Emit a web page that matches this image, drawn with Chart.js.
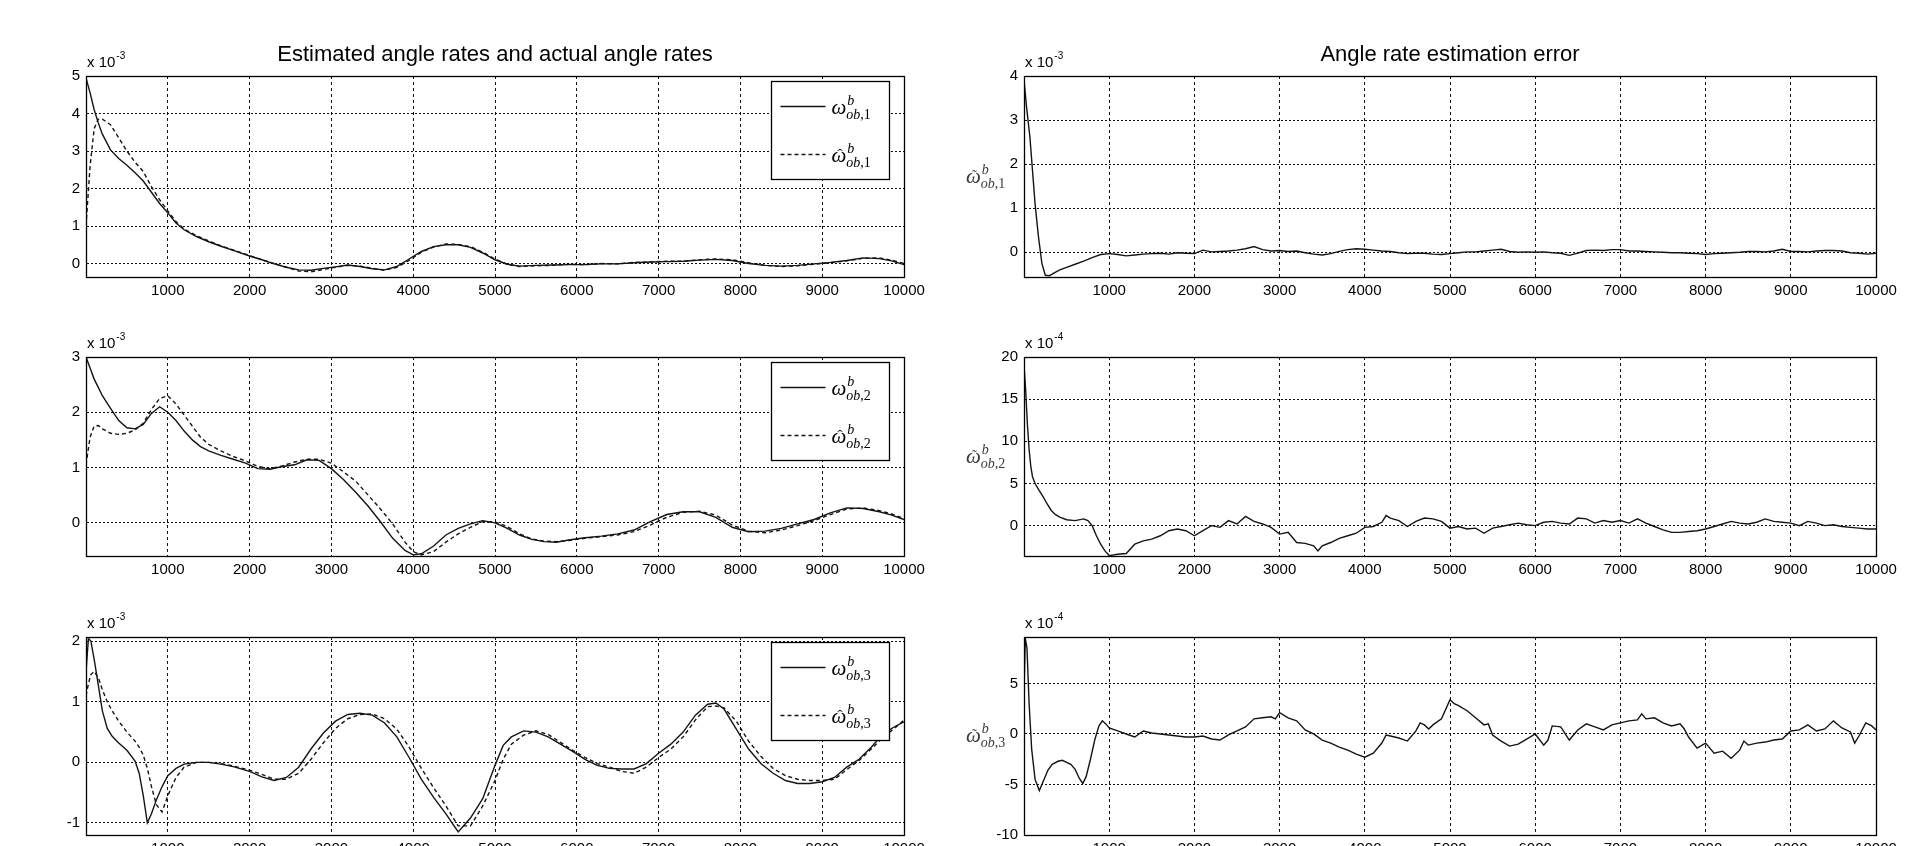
<!DOCTYPE html>
<html>
<head>
<meta charset="utf-8">
<script src="https://cdn.jsdelivr.net/npm/chart.js"></script>
<style>
  html,body{margin:0;padding:0;background:#fff;}
  body{width:1930px;height:846px;overflow:hidden;position:relative;}
  canvas{position:absolute;}
</style>
</head>
<body>
<script>
// ---------------- DATA ----------------
const xTicks = [1000,2000,3000,4000,5000,6000,7000,8000,9000,10000];

const titleLeft = "Estimated angle rates and actual angle rates";
const titleRight = "Angle rate estimation error";

// Left panel 1 (x 10^-3)
const L1_x = [0,50,100,150,200,300,400,500,600,700,800,900,1000,1100,1200,1350,1500,1650,1800,2000,2150,2300,2450,2600,2750,2900,3050,3200,3350,3500,3650,3800,3950,4100,4250,4400,4550,4700,4850,5000,5150,5300,5500,5700,5900,6100,6300,6500,6700,6900,7100,7300,7500,7700,7900,8100,8300,8500,8700,8900,9100,9300,9500,9700,9850,10000];
const L1_actual = [4.95,4.55,4.1,3.75,3.45,3.03,2.8,2.62,2.42,2.2,1.9,1.6,1.35,1.08,0.9,0.72,0.58,0.46,0.35,0.2,0.1,-0.01,-0.1,-0.17,-0.18,-0.13,-0.09,-0.04,-0.08,-0.14,-0.17,-0.08,0.12,0.32,0.45,0.5,0.5,0.43,0.28,0.1,-0.02,-0.07,-0.05,-0.04,-0.03,-0.03,-0.01,-0.01,0.02,0.04,0.05,0.06,0.09,0.11,0.08,0.0,-0.05,-0.07,-0.05,-0.01,0.03,0.08,0.15,0.13,0.07,-0.03];
const L1_est = [1.0,2.6,3.6,3.85,3.85,3.7,3.35,3.0,2.7,2.45,2.05,1.7,1.4,1.12,0.92,0.74,0.6,0.47,0.36,0.21,0.1,0.0,-0.1,-0.2,-0.22,-0.16,-0.1,-0.05,-0.07,-0.13,-0.18,-0.1,0.08,0.3,0.44,0.52,0.51,0.45,0.3,0.12,-0.02,-0.08,-0.06,-0.05,-0.02,-0.03,0.0,-0.01,0.03,0.04,0.06,0.06,0.1,0.12,0.1,0.02,-0.05,-0.08,-0.06,-0.02,0.02,0.07,0.14,0.15,0.09,0.0];
const L1_yTicks = [0,1,2,3,4,5];

// Left panel 2 (x 10^-3)
const L2_x = [0,50,100,150,200,300,400,500,600,700,800,900,1000,1100,1200,1300,1400,1500,1650,1800,1950,2100,2250,2400,2550,2700,2850,3000,3150,3300,3450,3600,3750,3900,4000,4100,4250,4400,4550,4700,4850,5000,5150,5300,5450,5600,5750,5900,6100,6300,6500,6700,6900,7100,7300,7500,7700,7900,8100,8300,8500,8700,8900,9100,9300,9500,9700,9850,10000];
const L2_actual = [3.0,2.8,2.6,2.45,2.3,2.07,1.85,1.72,1.7,1.78,1.98,2.1,2.0,1.85,1.66,1.5,1.38,1.3,1.22,1.15,1.08,0.98,0.97,1.02,1.05,1.14,1.13,0.98,0.78,0.55,0.3,0.02,-0.28,-0.5,-0.58,-0.56,-0.42,-0.22,-0.1,-0.02,0.04,0.0,-0.1,-0.22,-0.3,-0.34,-0.35,-0.31,-0.27,-0.24,-0.2,-0.13,0.02,0.15,0.2,0.2,0.1,-0.08,-0.16,-0.15,-0.1,-0.02,0.06,0.18,0.27,0.26,0.2,0.14,0.06];
const L2_est = [1.05,1.55,1.75,1.76,1.7,1.62,1.6,1.62,1.68,1.8,2.05,2.25,2.3,2.15,1.95,1.75,1.55,1.42,1.3,1.2,1.12,1.02,0.98,1.03,1.1,1.15,1.15,1.08,0.92,0.75,0.5,0.25,-0.02,-0.35,-0.52,-0.58,-0.52,-0.35,-0.2,-0.08,0.02,0.02,-0.07,-0.2,-0.29,-0.33,-0.34,-0.32,-0.28,-0.25,-0.22,-0.16,-0.04,0.1,0.19,0.21,0.14,-0.04,-0.15,-0.18,-0.13,-0.05,0.04,0.15,0.25,0.27,0.22,0.16,0.08];
const L2_yTicks = [0,1,2,3];

// Left panel 3 (x 10^-3)
const L3_x = [0,30,60,100,150,200,260,320,400,500,600,650,700,750,800,860,930,1000,1100,1200,1350,1500,1650,1800,2000,2150,2300,2450,2600,2750,2900,3050,3200,3350,3500,3650,3800,3950,4100,4250,4400,4550,4700,4850,5000,5100,5200,5350,5500,5650,5800,5950,6100,6250,6400,6550,6700,6850,7000,7150,7300,7450,7600,7700,7800,7950,8100,8250,8400,8550,8700,8850,9000,9150,9300,9450,9600,9750,9900,10000];
const L3_actual = [1.5,2.05,2.0,1.7,1.28,0.85,0.56,0.43,0.32,0.2,0.02,-0.18,-0.55,-1.0,-0.85,-0.62,-0.4,-0.22,-0.1,-0.03,0.0,0.0,-0.03,-0.07,-0.15,-0.24,-0.3,-0.25,-0.08,0.22,0.48,0.68,0.79,0.81,0.78,0.65,0.42,0.08,-0.28,-0.58,-0.85,-1.15,-0.92,-0.6,-0.05,0.28,0.42,0.52,0.5,0.42,0.3,0.18,0.05,-0.05,-0.1,-0.11,-0.11,-0.02,0.15,0.3,0.5,0.78,0.96,0.98,0.88,0.55,0.22,-0.02,-0.18,-0.3,-0.35,-0.35,-0.32,-0.25,-0.08,0.05,0.25,0.48,0.6,0.67];
const L3_est = [1.1,1.3,1.45,1.5,1.4,1.2,1.0,0.85,0.68,0.5,0.35,0.25,0.12,-0.1,-0.4,-0.7,-0.82,-0.55,-0.25,-0.08,0.0,0.0,-0.02,-0.06,-0.13,-0.2,-0.28,-0.28,-0.18,0.05,0.32,0.56,0.72,0.79,0.8,0.72,0.55,0.25,-0.1,-0.42,-0.72,-1.05,-1.05,-0.72,-0.3,0.05,0.3,0.45,0.52,0.46,0.33,0.2,0.08,-0.02,-0.08,-0.15,-0.18,-0.08,0.08,0.22,0.42,0.7,0.92,0.93,0.9,0.68,0.35,0.1,-0.1,-0.22,-0.28,-0.3,-0.3,-0.28,-0.12,0.03,0.22,0.42,0.58,0.7];
const L3_yTicks = [-1,0,1,2];

// Right panel 1: error omega1 (x 10^-3)
const R1_x = [0,30,70,100,130,170,210,250,300,350,420,500,600,700,800,900,1000,1100,1200,1300,1400,1500,1600,1700,1800,1900,2000,2100,2200,2300,2400,2500,2600,2700,2800,2900,3000,3100,3200,3300,3400,3500,3600,3700,3800,3900,4000,4100,4200,4300,4400,4500,4600,4700,4800,4900,5000,5100,5200,5300,5400,5500,5600,5700,5800,5900,6000,6100,6200,6300,6400,6500,6600,6700,6800,6900,7000,7100,7200,7300,7400,7500,7600,7700,7800,7900,8000,8100,8200,8300,8400,8500,8600,8700,8800,8900,9000,9100,9200,9300,9400,9500,9600,9700,9800,9900,10000];
const R1_err = [3.9,3.3,2.6,1.85,1.1,0.35,-0.25,-0.52,-0.53,-0.47,-0.4,-0.34,-0.27,-0.2,-0.12,-0.05,-0.03,-0.05,-0.08,-0.06,-0.04,-0.03,-0.02,-0.04,-0.01,-0.02,-0.03,0.05,0.01,0.02,0.03,0.05,0.08,0.13,0.06,0.03,0.04,0.02,0.03,-0.01,-0.04,-0.06,-0.03,0.02,0.06,0.08,0.07,0.05,0.03,0.02,-0.01,-0.03,-0.02,-0.02,-0.04,-0.05,-0.03,-0.01,0.01,0.01,0.03,0.05,0.07,0.02,0.0,0.01,0.0,0.01,-0.01,-0.02,-0.07,-0.02,0.04,0.05,0.04,0.06,0.06,0.03,0.03,0.02,0.01,0.0,-0.01,-0.01,-0.02,-0.03,-0.05,-0.03,-0.02,-0.01,0.0,0.02,0.02,0.01,0.03,0.07,0.02,0.02,0.01,0.03,0.04,0.04,0.03,-0.01,-0.02,-0.04,-0.02];
const R1_yTicks = [0,1,2,3,4];

// Right panel 2: error omega2 (x 10^-4)
const R2_x = [0,20,40,60,80,100,130,170,220,270,320,370,420,500,600,700,750,800,850,900,950,1000,1100,1200,1300,1400,1500,1600,1700,1800,1900,2000,2100,2200,2300,2400,2500,2600,2700,2800,2900,3000,3100,3200,3300,3400,3450,3500,3600,3700,3800,3900,4000,4100,4200,4250,4300,4400,4500,4600,4700,4800,4900,5000,5100,5200,5300,5400,5500,5600,5700,5800,5900,6000,6100,6200,6300,6400,6500,6600,6700,6800,6900,7000,7100,7200,7300,7400,7500,7600,7700,7800,7900,8000,8100,8200,8300,8400,8500,8600,8700,8800,8900,9000,9100,9200,9300,9400,9500,9600,9700,9800,9900,10000];
const R2_err = [19,16,12,9,7,5.8,5.0,4.3,3.5,2.6,1.8,1.3,1.0,0.7,0.6,0.8,0.6,0.0,-1.2,-2.2,-3.0,-3.55,-3.4,-3.3,-2.2,-1.8,-1.6,-1.2,-0.6,-0.4,-0.6,-1.2,-0.6,0.0,-0.2,0.6,0.2,1.1,0.5,0.2,-0.2,-1.0,-0.8,-2.0,-2.1,-2.4,-3.0,-2.4,-2.0,-1.5,-1.2,-0.9,-0.2,-0.1,0.4,1.2,0.9,0.6,-0.1,0.5,0.9,0.8,0.5,-0.3,-0.1,-0.4,-0.3,-0.9,-0.3,-0.1,0.1,0.3,0.1,0.0,0.4,0.5,0.3,0.2,0.9,0.8,0.3,0.6,0.4,0.6,0.3,0.8,0.3,-0.1,-0.5,-0.8,-0.8,-0.7,-0.6,-0.4,-0.1,0.2,0.5,0.3,0.2,0.4,0.8,0.5,0.4,0.3,0.0,0.5,0.3,0.0,0.1,-0.1,-0.2,-0.3,-0.4,-0.4];
const R2_yTicks = [0,5,10,15,20];

// Right panel 3: error omega3 (x 10^-4)
const R3_x = [0,15,35,60,90,130,180,230,280,330,400,450,500,550,600,650,690,730,780,830,880,920,960,1000,1100,1200,1300,1400,1500,1600,1700,1800,1900,2000,2100,2200,2300,2400,2500,2600,2700,2800,2900,2950,3000,3100,3200,3300,3400,3500,3600,3700,3800,3900,4000,4100,4200,4250,4300,4400,4500,4600,4650,4700,4750,4800,4900,5000,5050,5100,5200,5300,5400,5450,5500,5600,5700,5800,5900,6000,6100,6150,6200,6300,6400,6500,6600,6700,6800,6900,7000,7100,7200,7250,7300,7400,7500,7600,7700,7750,7800,7900,8000,8100,8200,8300,8400,8450,8500,8600,8700,8800,8900,9000,9100,9200,9300,9400,9500,9600,9700,9750,9800,9880,9950,10000];
const R3_err = [4,9.5,8.5,3,-1.5,-4.5,-5.6,-4.6,-3.6,-3.0,-2.7,-2.6,-2.8,-3.0,-3.5,-4.4,-4.9,-4.2,-2.5,-0.6,0.8,1.3,1.0,0.6,0.3,0.0,-0.3,0.3,0.1,0.0,-0.1,-0.2,-0.3,-0.3,-0.2,-0.5,-0.6,-0.1,0.3,0.7,1.5,1.6,1.7,1.5,2.1,1.6,1.3,0.4,0.0,-0.6,-0.9,-1.3,-1.6,-2.0,-2.3,-1.9,-0.9,-0.1,-0.2,-0.4,-0.7,0.3,1.1,0.9,0.5,0.9,1.5,3.4,3.0,2.8,2.3,1.6,0.9,1.0,-0.1,-0.7,-1.2,-1.0,-0.5,0.0,-1.1,-0.6,0.8,0.7,-0.6,0.4,1.0,0.7,0.4,0.9,1.1,1.3,1.4,2.0,1.5,1.6,1.1,0.8,1.0,0.5,-0.3,-1.4,-0.9,-1.9,-1.7,-2.4,-1.6,-0.7,-1.1,-0.9,-0.8,-0.6,-0.5,0.3,0.4,0.9,0.3,0.5,1.3,0.6,0.2,-0.9,-0.2,1.1,0.8,0.4];
const R3_yTicks = [-10,-5,0,5];

// ---------------- LAYOUT ----------------
const SANS = '"Liberation Sans", Arial, sans-serif';
const SERIF = '"Liberation Serif", "DejaVu Serif", serif';
const LINE = '#141414';
const DASH = [4,3];

const COLS = {
  L: {cx:0, cw:960, plotL:86, plotR:904},
  R: {cx:960, cw:970, plotL:1024, plotR:1876}
};
const ROWS = [{top:76, bot:277},{top:357, bot:556},{top:637, bot:835}];
const PADTOP = 76, XAXISH = 34;

function drawOmega(ctx, x, y, accent, idx, color){
  ctx.save();
  ctx.fillStyle = color; ctx.textAlign='left'; ctx.textBaseline='alphabetic';
  ctx.font = 'italic 21px ' + SERIF;
  ctx.fillText('\u03C9', x, y);
  const w = ctx.measureText('\u03C9').width;
  if (accent){
    ctx.font = '15px ' + SERIF;
    ctx.textAlign='center';
    ctx.fillText(accent, x + w/2 + 1, y - 3);
    ctx.textAlign='left';
  }
  ctx.font = 'italic 14px ' + SERIF;
  ctx.fillText('b', x + w + 1, y - 9);
  ctx.fillText('ob', x + w, y + 5);
  const w2 = ctx.measureText('ob').width;
  ctx.font = '14px ' + SERIF;
  ctx.fillText(',' + idx, x + w + w2, y + 5);
  ctx.restore();
}

function exponentText(ctx, x, y, exp){
  ctx.save();
  ctx.fillStyle='#000'; ctx.textAlign='left'; ctx.textBaseline='alphabetic';
  ctx.font = '15px ' + SANS;
  ctx.fillText('x 10', x, y);
  const w = ctx.measureText('x 10').width;
  ctx.font = '10px ' + SANS;
  ctx.fillText(exp, x + w + 1, y - 8);
  ctx.restore();
}

const decorPlugin = {
  id:'decor',
  afterDraw(chart){
    const p = chart.options.plugins.decor;
    const ca = chart.chartArea;
    const ctx = chart.ctx;
    ctx.save();
    ctx.strokeStyle='#000'; ctx.lineWidth=1.3; ctx.setLineDash([]);
    ctx.strokeRect(Math.round(ca.left)+0.5, Math.round(ca.top)+0.5, Math.round(ca.right-ca.left), Math.round(ca.bottom-ca.top));
    exponentText(ctx, ca.left + 1, ca.top - 9, p.exp);
    if (p.title){
      ctx.fillStyle='#000'; ctx.font='22px ' + SANS; ctx.textAlign='center'; ctx.textBaseline='alphabetic';
      ctx.fillText(p.title, (ca.left+ca.right)/2, ca.top - 15);
    }
    if (p.legend){
      const bw=118, bh=98;
      const bx = Math.round(ca.right - 15 - bw) + 0.5, by = Math.round(ca.top + 5) + 0.5;
      ctx.fillStyle='#fff'; ctx.fillRect(bx, by, bw, bh);
      ctx.strokeStyle='#000'; ctx.lineWidth=1.3; ctx.strokeRect(bx, by, bw, bh);
      const items = [{dash:[], accent:'', y:25},{dash:DASH, accent:'\u02C6', y:73}];
      items.forEach(it=>{
        ctx.strokeStyle=LINE; ctx.lineWidth=1.4; ctx.setLineDash(it.dash);
        ctx.beginPath(); ctx.moveTo(bx+9, by+it.y); ctx.lineTo(bx+54, by+it.y); ctx.stroke();
        ctx.setLineDash([]);
        drawOmega(ctx, bx+60, by+it.y+7, it.accent, p.idx, '#000');
      });
    }
    if (p.ylabel){
      drawOmega(ctx, 6, (ca.top+ca.bottom)/2 + 6, '\u02DC', p.idx, '#3a3a3a');
    }
    ctx.restore();
  }
};

function makePanel(col, row, series, yMin, yMax, yTicks, decor){
  const c = COLS[col], r = ROWS[row];
  const canvas = document.createElement('canvas');
  const ch = (r.bot - r.top) + PADTOP + XAXISH;
  canvas.width = c.cw; canvas.height = ch;
  canvas.style.left = c.cx + 'px';
  canvas.style.top = (r.top - PADTOP) + 'px';
  canvas.style.width = c.cw + 'px'; canvas.style.height = ch + 'px';
  document.body.appendChild(canvas);
  const yw = c.plotL - c.cx;
  const rp = c.cx + c.cw - c.plotR;
  const tickFont = {family:SANS, size:15};
  new Chart(canvas, {
    type:'line',
    data:{datasets: series.map(s=>({
      data: s.x.map((x,i)=>({x:x, y:s.y[i]})),
      borderColor: LINE, borderWidth: 1.4, borderDash: s.dash || [],
      pointRadius:0, tension:0, fill:false
    }))},
    options:{
      responsive:false, animation:false, devicePixelRatio:1,
      layout:{padding:{top:PADTOP, right:rp, left:0, bottom:0}},
      plugins:{legend:{display:false}, tooltip:{enabled:false}, title:{display:false}, decor:decor},
      scales:{
        x:{type:'linear', min:0, max:10000,
          afterBuildTicks:s=>{ s.ticks = xTicks.map(v=>({value:v})); },
          afterFit:s=>{ s.height = XAXISH; },
          ticks:{color:'#000', font:tickFont, padding:5, maxRotation:0, autoSkip:false, callback:v=>String(v)},
          grid:{color:'#111', lineWidth:1, drawTicks:false},
          border:{display:true, color:'#000', width:1, dash:[3,3]}
        },
        y:{type:'linear', min:yMin, max:yMax,
          afterBuildTicks:s=>{ s.ticks = yTicks.map(v=>({value:v})); },
          afterFit:s=>{ s.width = yw; },
          ticks:{color:'#000', font:tickFont, padding:6, callback:v=>String(v)},
          grid:{color:'#111', lineWidth:1, drawTicks:false},
          border:{display:true, color:'#000', width:1, dash:[2,2]}
        }
      }
    },
    plugins:[decorPlugin]
  });
}

makePanel('L',0,[{x:L1_x,y:L1_actual},{x:L1_x,y:L1_est,dash:DASH}], -0.36, 5, L1_yTicks, {exp:'-3', title:titleLeft, legend:true, idx:1});
makePanel('L',1,[{x:L2_x,y:L2_actual},{x:L2_x,y:L2_est,dash:DASH}], -0.6, 3, L2_yTicks, {exp:'-3', legend:true, idx:2});
makePanel('L',2,[{x:L3_x,y:L3_actual},{x:L3_x,y:L3_est,dash:DASH}], -1.2, 2.07, L3_yTicks, {exp:'-3', legend:true, idx:3});
makePanel('R',0,[{x:R1_x,y:R1_err}], -0.56, 4, R1_yTicks, {exp:'-3', title:titleRight, ylabel:true, idx:1});
makePanel('R',1,[{x:R2_x,y:R2_err}], -3.6, 20, R2_yTicks, {exp:'-4', ylabel:true, idx:2});
makePanel('R',2,[{x:R3_x,y:R3_err}], -10, 9.6, R3_yTicks, {exp:'-4', ylabel:true, idx:3});
</script>
</body>
</html>
